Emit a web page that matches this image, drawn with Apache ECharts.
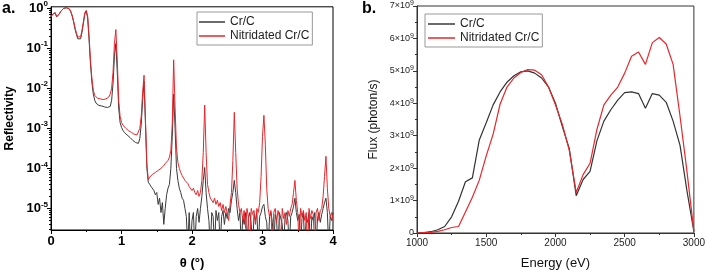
<!DOCTYPE html>
<html>
<head>
<meta charset="utf-8">
<script src="https://cdn.jsdelivr.net/npm/echarts@6/dist/echarts.min.js"></script>
<style>
html,body{margin:0;padding:0;background:#fff;}
#chart{width:708px;height:275px;}
</style>
</head>
<body>
<div id="chart"></div>
<script>
var FONT = '"Liberation Sans", Arial, sans-serif';

// ---- panel a : reflectivity, sampled every 0.02 deg from 0 to 4 ----
var thetaStep = 0.02;
var reflCrC = [
  0.60,0.69,0.76,0.76,0.60,0.58,0.72,0.83,0.91,0.98,
  1.0,1.01,1.0,0.94,0.81,0.63,0.45,0.30,0.22,0.17,
  0.16,0.17,0.25,0.42,0.71,0.85,0.56,0.16,0.040,0.014,
  7.1e-3,5.0e-3,4.2e-3,3.9e-3,3.7e-3,3.6e-3,3.6e-3,3.5e-3,3.4e-3,3.4e-3,
  3.3e-3,3.2e-3,3.5e-3,5.0e-3,1.3e-2,6.3e-2,0.13,2.5e-2,3.2e-3,1.4e-3,
  1.05e-3,8.9e-4,7.9e-4,7.2e-4,6.8e-4,6.3e-4,5.9e-4,5.5e-4,5.0e-4,4.7e-4,
  4.4e-4,4.0e-4,4.2e-4,5.6e-4,1.26e-3,5.0e-3,1.5e-2,1.26e-3,1.0e-4,4.5e-5,
  4.0e-5,3.5e-5,3.2e-5,2.8e-5,2.2e-5,2.5e-5,1.26e-5,1.8e-5,7.9e-6,1.4e-5,
  4.0e-6,1.0e-5,2.2e-5,3.2e-5,4.0e-5,1.0e-4,6.3e-4,7.1e-3,1.0e-3,1.0e-4,
  5.0e-5,3.2e-5,2.5e-5,1.8e-5,1.6e-5,1.0e-5,6.3e-6,1e-6,7.9e-6,1e-6,
  5.0e-6,7.9e-6,1e-6,6.3e-6,1.0e-5,4.5e-6,1.0e-5,2.0e-5,5.0e-5,1.05e-4,
  2.5e-5,1.0e-5,5.0e-6,1e-6,7.9e-6,6.3e-6,1e-6,8.9e-6,5.0e-6,7.9e-6,
  1e-6,6.3e-6,8.9e-6,4.0e-6,7.9e-6,5.6e-6,1.0e-5,7.9e-6,1.6e-5,2.5e-5,
  5.0e-5,2.5e-5,1.0e-5,5.0e-6,7.9e-6,1e-6,6.3e-6,4.0e-6,7.9e-6,1e-6,
  5.6e-6,7.9e-6,4.0e-6,1e-6,7.1e-6,5.0e-6,7.9e-6,1e-6,6.3e-6,7.9e-6,
  1.12e-5,1.26e-5,6.3e-6,4.5e-6,1e-6,6.3e-6,7.9e-6,4.5e-6,1e-6,7.1e-6,
  5.0e-6,1e-6,7.9e-6,5.6e-6,4.0e-6,1e-6,6.3e-6,7.9e-6,5.0e-6,1e-6,
  6.3e-6,7.9e-6,1.12e-5,1.8e-5,7.9e-6,5.0e-6,7.1e-6,1e-6,5.6e-6,7.9e-6,
  1e-6,6.3e-6,4.5e-6,7.9e-6,1e-6,6.3e-6,5.0e-6,7.9e-6,1e-6,5.6e-6,
  7.9e-6,4.5e-6,7.1e-6,1.0e-5,1.4e-5,1.8e-5,7.9e-6,1e-6,6.3e-6,5.0e-6,
  7.9e-6
];
var reflNitr = [
  0.60,0.69,0.76,0.76,0.60,0.58,0.72,0.83,0.91,0.98,
  1.0,1.02,1.02,0.95,0.83,0.66,0.48,0.33,0.24,0.19,
  0.17,0.19,0.28,0.46,0.76,0.87,0.63,0.20,0.050,0.018,
  8.9e-3,6.6e-3,6.0e-3,5.6e-3,5.5e-3,5.4e-3,5.4e-3,5.2e-3,5.2e-3,5.4e-3,
  5.6e-3,6.0e-3,7.1e-3,1.0e-2,2.5e-2,0.13,0.29,0.050,5.0e-3,2.0e-3,
  1.4e-3,1.2e-3,1.07e-3,1.0e-3,9.3e-4,8.7e-4,8.3e-4,7.9e-4,7.4e-4,7.1e-4,
  6.9e-4,6.8e-4,7.6e-4,1.0e-3,2.0e-3,7.9e-3,2.1e-2,1.6e-3,1.26e-4,5.2e-5,
  6.0e-5,6.3e-5,7.1e-5,6.6e-5,7.9e-5,7.6e-5,8.9e-5,9.5e-5,1.0e-4,1.12e-4,
  1.17e-4,1.32e-4,1.41e-4,1.58e-4,1.9e-4,2.8e-4,1.26e-3,5.1e-2,3.2e-3,3.2e-4,
  1.41e-4,1.0e-4,7.9e-5,6.6e-5,6.0e-5,5.0e-5,4.5e-5,4.2e-5,3.5e-5,3.8e-5,
  2.8e-5,3.2e-5,2.5e-5,2.2e-5,2.8e-5,2.0e-5,2.5e-5,5.0e-5,2.5e-4,3.8e-3,
  2.5e-4,4.0e-5,2.5e-5,1.8e-5,2.0e-5,1.4e-5,1.8e-5,1.26e-5,1.6e-5,1.12e-5,
  1.4e-5,8.9e-6,1.26e-5,7.9e-6,1.12e-5,1.0e-5,5.0e-6,1.26e-5,2.5e-5,1.58e-4,
  2.5e-3,2.5e-4,3.2e-5,1.26e-5,7.9e-6,1.0e-5,5.0e-6,8.9e-6,3.2e-6,1.0e-5,
  6.3e-6,1e-6,1.0e-5,7.1e-6,8.9e-6,4.0e-6,1.0e-5,7.9e-6,1.4e-5,6.3e-5,
  6.3e-4,2.1e-3,4.0e-4,3.2e-5,1.0e-5,6.3e-6,8.9e-6,1e-6,7.9e-6,1.0e-5,
  4.5e-6,8.9e-6,6.3e-6,1e-6,1.0e-5,5.6e-6,7.9e-6,4.0e-6,8.9e-6,6.3e-6,
  1.0e-5,1.26e-5,2.5e-5,5.0e-5,1.6e-5,7.9e-6,1e-6,1.0e-5,6.3e-6,8.9e-6,
  5.0e-6,7.9e-6,1e-6,1.0e-5,5.6e-6,8.9e-6,7.1e-6,1e-6,7.9e-6,1.0e-5,
  5.0e-6,8.9e-6,1.0e-5,2.0e-5,6.3e-5,2.0e-4,3.2e-5,1.0e-5,6.3e-6,7.9e-6,
  5.0e-6
];
var yMajorA = [1e-5, 1e-4, 1e-3, 1e-2, 1e-1, 1];
var xTicksA = [0, 1, 2, 3, 4];

// ---- panel b : flux (x 1e9 photon/s) vs energy ----
var energy = [1000,1050,1100,1150,1200,1250,1300,1350,1400,1450,1500,1550,1600,1650,1700,1750,1800,1850,1900,1950,
  2000,2050,2100,2150,2200,2250,2300,2350,2400,2450,2500,2550,2600,2650,2700,2750,2800,2850,2900,2950,3000];
var fluxCrC = [0.0,0.01,0.04,0.1,0.2,0.5,0.98,1.58,1.7,2.87,3.4,3.95,4.35,4.65,4.85,4.97,5.0,4.93,4.78,4.5,
  4.0,3.28,2.6,1.15,1.65,1.9,2.85,3.45,3.8,4.1,4.33,4.35,4.3,3.85,4.3,4.25,4.03,3.45,2.7,1.3,0.05];
var fluxNitr = [0.0,0.01,0.02,0.05,0.1,0.17,0.2,0.65,1.1,1.63,2.38,3.05,3.97,4.5,4.78,4.95,5.04,5.02,4.88,4.5,
  3.95,3.35,2.55,1.25,1.8,2.15,3.2,3.95,4.25,4.5,4.93,5.45,5.58,5.2,5.87,6.03,5.83,5.2,3.6,1.9,0.05];

// log minor ticks 2..9 per decade
var yMinorA = [];
for (var d = -6; d <= 0; d++) {
  for (var k = 2; k <= 9; k++) {
    var v = k * Math.pow(10, d);
    if (v > 2.9e-6 && v < 1.07) yMinorA.push(v);
  }
}

function pairs(xs, ys, scale) {
  return ys.map(function (y, i) { return [xs[i], y * scale]; });
}
var thetaA = reflCrC.map(function (r, i) { return +(i * thetaStep).toFixed(2); });

var myChart = echarts.init(document.getElementById('chart'));
var option = {
  animation: false,
  textStyle: { fontFamily: FONT },
  graphic: [
    { type: 'text', left: 2, top: 1, style: { text: 'a.', font: 'bold 16px ' + FONT, fill: '#000' } },
    { type: 'text', left: 362, top: 1, style: { text: 'b.', font: 'bold 16px ' + FONT, fill: '#000' } }
  ],
  grid: [
    { left: 51, top: 6, width: 282, height: 228, show: true, borderColor: '#000', borderWidth: 1 },
    { left: 417, top: 6, width: 280, height: 227, show: true, borderColor: '#333', borderWidth: 1 }
  ],
  legend: [
    {
      data: ['Cr/C', 'Nitridated Cr/C'], orient: 'vertical', left: 197, top: 12,
      icon: 'rect', itemWidth: 26, itemHeight: 1.5, itemGap: 0, padding: [3, 3, 2, 2],
      borderColor: '#999', borderWidth: 1, selectedMode: false,
      textStyle: { fontSize: 12, color: '#222', fontFamily: FONT, lineHeight: 14 }
    },
    {
      data: ['Cr/C', 'Nitridated Cr/C'], orient: 'vertical', left: 425, top: 14,
      icon: 'rect', itemWidth: 27, itemHeight: 1.5, itemGap: 0, padding: [3, 3, 2, 3],
      borderColor: '#999', borderWidth: 1, selectedMode: false,
      textStyle: { fontSize: 12, color: '#222', fontFamily: FONT, lineHeight: 14 }
    }
  ],
  xAxis: [
    {
      type: 'value', gridIndex: 0, min: 0, max: 4, interval: 1,
      name: 'θ (°)', nameLocation: 'middle', nameGap: 27,
      nameTextStyle: { fontSize: 13, fontWeight: 'bold', color: '#000', fontFamily: FONT },
      axisLine: { onZero: false, lineStyle: { color: '#000', width: 1 } },
      axisTick: { length: 4, lineStyle: { color: '#000' } },
      minorTick: { show: true, splitNumber: 2, length: 2, lineStyle: { color: '#000' } },
      axisLabel: { customValues: xTicksA, fontSize: 13, fontWeight: 'bold', color: '#000', margin: 5, fontFamily: FONT },
      splitLine: { show: false }
    },
    {
      type: 'value', gridIndex: 1, min: 1000, max: 3000, interval: 500,
      name: 'Energy (eV)', nameLocation: 'middle', nameGap: 24,
      nameTextStyle: { fontSize: 13, color: '#111', fontFamily: FONT },
      axisLine: { onZero: false, lineStyle: { color: '#333', width: 1 } },
      axisTick: { length: 4, lineStyle: { color: '#333' } },
      minorTick: { show: true, splitNumber: 2, length: 2, lineStyle: { color: '#333' } },
      axisLabel: {
        fontSize: 10, color: '#222', margin: 5, fontFamily: FONT,
        formatter: function (v) { return String(v); }
      },
      splitLine: { show: false }
    }
  ],
  yAxis: [
    {
      type: 'log', gridIndex: 0, min: 2.9e-6, max: 1.07, position: 'left',
      name: 'Reflectivity', nameLocation: 'middle', nameGap: 35,
      nameTextStyle: { fontSize: 12, fontWeight: 'bold', color: '#000', fontFamily: FONT },
      axisLine: { show: true, onZero: false, lineStyle: { color: '#000', width: 1 } },
      axisTick: { show: true, customValues: yMajorA, length: 4, lineStyle: { color: '#000' } },
      axisLabel: {
        customValues: yMajorA, margin: 3,
        formatter: function (v) {
          var e = Math.round(Math.log10(v));
          return '{b|10}{s|' + e + '}';
        },
        rich: {
          b: { fontSize: 13, fontWeight: 'bold', color: '#000', fontFamily: FONT, lineHeight: 16 },
          s: { fontSize: 8, fontWeight: 'bold', color: '#000', fontFamily: FONT, verticalAlign: 'top', lineHeight: 9 }
        }
      },
      splitLine: { show: false }
    },
    {
      // minor log ticks only
      type: 'log', gridIndex: 0, min: 2.9e-6, max: 1.07, position: 'left', offset: 0,
      axisLine: { show: false },
      axisTick: { show: true, customValues: yMinorA, length: 2, lineStyle: { color: '#000' } },
      axisLabel: { show: false },
      splitLine: { show: false }
    },
    {
      type: 'value', gridIndex: 1, min: 0, max: 7e9, interval: 1e9,
      name: 'Flux (photon/s)', nameLocation: 'middle', nameGap: 37,
      nameTextStyle: { fontSize: 12, color: '#111', fontFamily: FONT },
      axisLine: { show: true, onZero: false, lineStyle: { color: '#333', width: 1 } },
      axisTick: { length: 4, lineStyle: { color: '#333' } },
      minorTick: { show: true, splitNumber: 2, length: 2, lineStyle: { color: '#333' } },
      axisLabel: {
        margin: 3,
        formatter: function (v) {
          if (v === 0) return '{n|0}';
          return '{n|' + Math.round(v / 1e9) + '×10}{s|9}';
        },
        rich: {
          n: { fontSize: 9, color: '#222', fontFamily: FONT, lineHeight: 12 },
          s: { fontSize: 7, color: '#222', fontFamily: FONT, verticalAlign: 'top', lineHeight: 8 }
        }
      },
      splitLine: { show: false }
    }
  ],
  series: [
    {
      name: 'Cr/C', type: 'line', xAxisIndex: 0, yAxisIndex: 0, symbol: 'none',
      data: pairs(thetaA, reflCrC, 1), lineStyle: { color: '#3a3a3a', width: 1 }, itemStyle: { color: '#3a3a3a' }
    },
    {
      name: 'Nitridated Cr/C', type: 'line', xAxisIndex: 0, yAxisIndex: 0, symbol: 'none',
      data: pairs(thetaA, reflNitr, 1), lineStyle: { color: '#e8262b', width: 1 }, itemStyle: { color: '#e8262b' }
    },
    {
      name: 'Cr/C', type: 'line', xAxisIndex: 1, yAxisIndex: 2, symbol: 'none',
      data: pairs(energy, fluxCrC, 1e9), lineStyle: { color: '#333', width: 1.2 }, itemStyle: { color: '#333' }
    },
    {
      name: 'Nitridated Cr/C', type: 'line', xAxisIndex: 1, yAxisIndex: 2, symbol: 'none',
      data: pairs(energy, fluxNitr, 1e9), lineStyle: { color: '#e8262b', width: 1.2 }, itemStyle: { color: '#e8262b' }
    }
  ]
};
myChart.setOption(option);
</script>
</body>
</html>
